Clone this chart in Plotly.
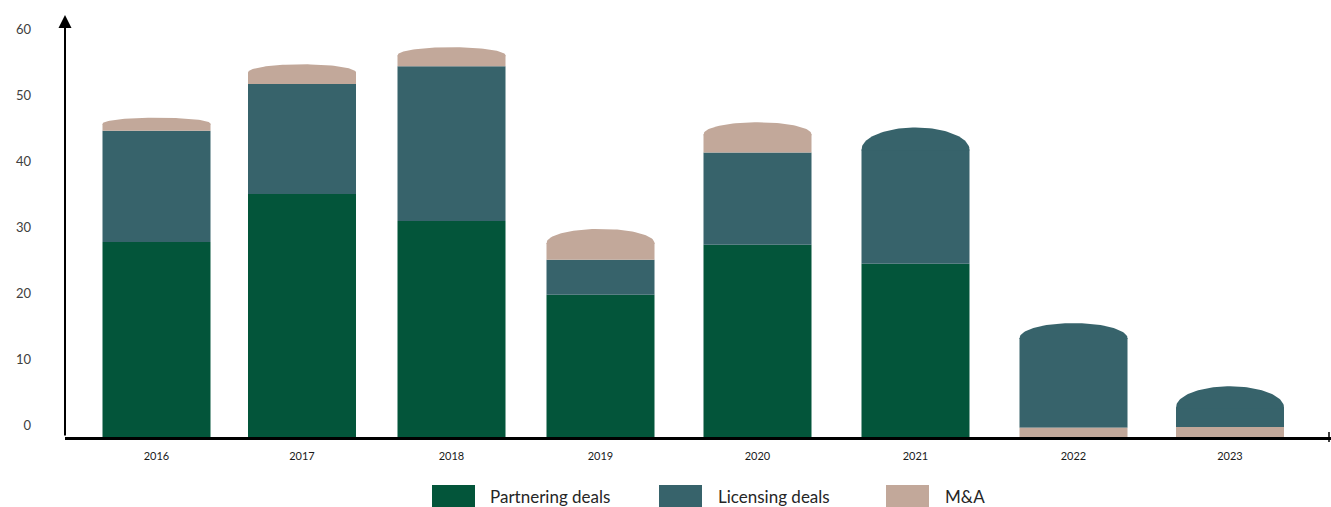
import math
import plotly.graph_objects as go

# ---- data -------------------------------------------------------------
YEARS = ["2016", "2017", "2018", "2019", "2020", "2021", "2022", "2023"]
PARTNERING = [29.6, 36.9, 32.8, 21.6, 29.2, 26.3, 0.0, 0.0]
LICENSING = [16.9, 16.7, 23.5, 5.3, 14.0, 20.7, 15.9, 6.2]
MNA = [2.0, 3.0, 2.9, 4.7, 4.6, 0.0, 1.4, 1.5]
SERIES_NAMES = ["Partnering deals", "Licensing deals", "M&A"]
Y_TICKS = [0, 10, 20, 30, 40, 50, 60]

# stacking order, bottom to top (the last two years put M&A at the base)
DEFAULT_ORDER = ["Partnering deals", "Licensing deals", "M&A"]
STACK_ORDER = {"2022": ["M&A", "Licensing deals", "Partnering deals"],
               "2023": ["M&A", "Licensing deals", "Partnering deals"]}

# ---- styling / layout -------------------------------------------------
COLORS = {"Partnering deals": "#03553a",
          "Licensing deals": "#37636b",
          "M&A": "#c2a89a"}
W, H = 1331, 507
M_L, M_R, M_T, M_B = 65, 0, 9, 70
PLOT_W = W - M_L - M_R
PLOT_H = H - M_T - M_B
Y_MAX = 65
PX_PER_UNIT = PLOT_H / Y_MAX
BAR_W = 108                      # x axis runs in pixel-sized units
SLOT_X = [91.5, 237, 386.5, 535.5, 692.5, 850.5, 1008.5, 1165]
CAP_DEPTH_PX = [6, 8, 8, 14, 12, 22, 15, 21]   # height of the domed top of each column
FONT = "Lato"

series = dict(zip(SERIES_NAMES, [PARTNERING, LICENSING, MNA]))


def px_x(px):
    return (px - M_L) / PLOT_W


def px_y(py):
    return (H - M_B - py) / PLOT_H


# build stacked segments; the top segment of each column ends in a dome
segments = {n: {"x": [], "base": [], "y": []} for n in SERIES_NAMES}
domes = []
for i, yr in enumerate(YEARS):
    order = STACK_ORDER.get(yr, DEFAULT_ORDER)
    present = [n for n in order if series[n][i] > 0]
    base = 0.0
    for n in present:
        v = series[n][i]
        h = v
        if n == present[-1]:
            d = CAP_DEPTH_PX[i] / PX_PER_UNIT
            h = v - d
            domes.append((SLOT_X[i], base + h, d, COLORS[n]))
        segments[n]["x"].append(SLOT_X[i])
        segments[n]["base"].append(base)
        segments[n]["y"].append(h)
        base += v

fig = go.Figure()
for n in SERIES_NAMES:
    s = segments[n]
    fig.add_trace(go.Bar(
        x=s["x"], y=s["y"], base=s["base"], width=BAR_W, name=n,
        marker=dict(color=COLORS[n], line=dict(width=0)),
        showlegend=False, hoverinfo="skip"))

for cx, side, depth, col in domes:
    xs, ys = [], []
    steps = 60
    xs.append(cx - BAR_W / 2)
    ys.append(side - 0.15)
    for k in range(steps + 1):
        t = math.pi * k / steps
        xs.append(cx - (BAR_W / 2) * math.cos(t))
        ys.append(side + depth * math.sin(t))
    xs.append(cx + BAR_W / 2)
    ys.append(side - 0.15)
    fig.add_trace(go.Scatter(
        x=xs, y=ys, mode="lines", fill="toself", fillcolor=col,
        line=dict(width=0, color=col), showlegend=False, hoverinfo="skip"))

# legend: large swatches with labels below the axis
legend_pos = [(432, 488), (659, 716), (886, 943)]
shapes = []
annotations = []
for n, (bx, tx) in zip(SERIES_NAMES, legend_pos):
    shapes.append(dict(type="rect", xref="paper", yref="paper",
                       x0=px_x(bx), x1=px_x(bx + 43), y0=px_y(485), y1=px_y(515),
                       fillcolor=COLORS[n], line=dict(width=0)))
    annotations.append(dict(xref="paper", yref="paper", x=px_x(tx), y=px_y(496),
                            xanchor="left", yanchor="middle", text=n, showarrow=False,
                            font=dict(family=FONT, size=17, color="#262626")))

# y axis drawn as an arrow
annotations.append(dict(xref="paper", yref="paper", x=0, y=px_y(15),
                        ax=0, ay=437 - 15, axref="pixel", ayref="pixel",
                        showarrow=True, arrowhead=2, arrowsize=1.3, arrowwidth=2,
                        arrowcolor="black", text=""))
# small end mark on the x axis
shapes.append(dict(type="line", xref="paper", yref="paper",
                   x0=px_x(1329), x1=px_x(1329), y0=px_y(432), y1=px_y(442),
                   line=dict(color="black", width=1.5)))

fig.update_layout(
    width=W, height=H,
    margin=dict(l=M_L, r=M_R, t=M_T, b=M_B),
    paper_bgcolor="white", plot_bgcolor="white",
    barmode="overlay",
    shapes=shapes, annotations=annotations,
    xaxis=dict(range=[0, PLOT_W], tickvals=SLOT_X, ticktext=YEARS,
               showgrid=False, zeroline=False, showline=True, linecolor="black",
               linewidth=2.5, ticks="", ticklabelstandoff=7,
               tickfont=dict(family=FONT, size=11, color="#1a1a1a"), fixedrange=True),
    yaxis=dict(range=[0, Y_MAX], tickvals=Y_TICKS, ticktext=[str(v) for v in Y_TICKS],
               showgrid=False, zeroline=False, showline=False, ticks="",
               ticklabelshift=-12, ticklabelstandoff=33,
               tickfont=dict(family=FONT, size=13, color="#404040"), fixedrange=True),
    showlegend=False,
)

fig.write_html("out.html")
